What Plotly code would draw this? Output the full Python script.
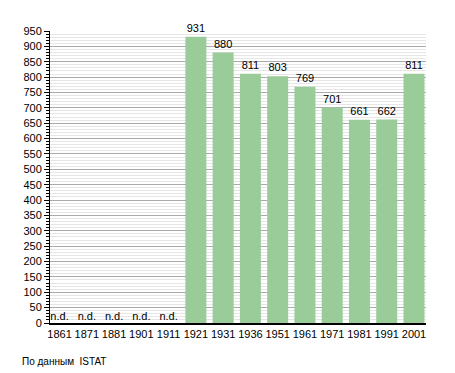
import plotly.graph_objects as go

years = ["1861", "1871", "1881", "1901", "1911", "1921", "1931", "1936",
         "1951", "1961", "1971", "1981", "1991", "2001"]
population = [None, None, None, None, None, 931, 880, 811, 803, 769, 701, 661, 662, 811]
nd_years = ["1861", "1871", "1881", "1901", "1911"]
nd_label = "n.d."
source_note = "По данным  ISTAT"

bar_vals = [v if v is not None else 0 for v in population]
bar_text = [str(v) if v is not None else "" for v in population]

fig = go.Figure()
fig.add_trace(go.Bar(
    x=years, y=bar_vals, text=bar_text, textposition="outside",
    textfont=dict(family="Liberation Sans, Arial, sans-serif", size=11, color="#000"),
    marker=dict(color="#99CC99", line=dict(width=0)),
    width=0.77, cliponaxis=False, hoverinfo="x+y",
))
fig.add_trace(go.Scatter(
    x=nd_years, y=[0] * len(nd_years), mode="text",
    text=[nd_label] * len(nd_years), textposition="top center",
    textfont=dict(family="Liberation Sans, Arial, sans-serif", size=11, color="#000"),
    cliponaxis=False, hoverinfo="skip",
))

fig.update_layout(
    width=455, height=373,
    margin=dict(l=50, r=29, t=31, b=50, autoexpand=False),
    paper_bgcolor="white", plot_bgcolor="white",
    showlegend=False,
    font=dict(family="Liberation Sans, Arial, sans-serif", size=11, color="#000"),
    xaxis=dict(
        type="category", range=[-0.35, 13.44], automargin=False,
        showline=True, linecolor="#000", linewidth=2,
        ticks="", showgrid=False, tickfont=dict(size=11),
        zeroline=False,
    ),
    yaxis=dict(
        range=[0, 950], dtick=50, tick0=0, automargin=False,
        showline=True, linecolor="#000", linewidth=1,
        ticks="outside", ticklen=5, tickcolor="#000", tickwidth=1,
        showgrid=True, gridcolor="#aaaaaa", gridwidth=1,
        minor=dict(dtick=10, ticks="outside", ticklen=3, tickcolor="#000",
                   showgrid=True, gridcolor="#e6e6e6", gridwidth=1),
        zeroline=False, tickfont=dict(size=11),
    ),
    annotations=[dict(
        text=source_note, xref="paper", yref="paper",
        x=-30 / 376, y=-38 / 292, xanchor="left", yanchor="middle",
        showarrow=False, font=dict(size=10, color="#000"),
    )],
)

fig.write_html(
    "out.html",
    config={"displayModeBar": False},
    post_script="document.body.style.margin='0';document.body.style.overflow='hidden';",
)
